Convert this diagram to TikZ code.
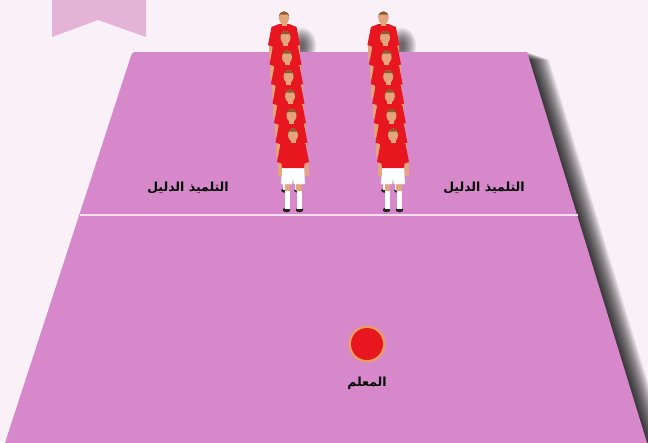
\documentclass[tikz,border=0pt]{standalone}
\usepackage{fontspec}
\newfontfamily\arabicfont[Script=Arabic]{DejaVu Sans}
\TeXXeTstate=1
\usepackage{xcolor}
\usetikzlibrary{positioning}

\definecolor{pagebg}{HTML}{F9F0F8}
\definecolor{fieldpink}{HTML}{D688CB}
\definecolor{tabpink}{HTML}{E3B4D8}
\definecolor{lineglow}{HTML}{F6DDF0}
\definecolor{shirtred}{HTML}{E8161E}
\definecolor{skin}{HTML}{E5A47C}
\definecolor{hair}{HTML}{8B5A2E}

\tikzset{
  arlabel/.style={font=\arabicfont\bfseries\fontsize{12.5}{14}\selectfont, inner sep=0pt},
  player/.pic={
    % shoes
    \fill[black!85] (-6.5,75) ellipse (3.8 and 2.3);
    \fill[black!85] (6.5,75) ellipse (3.8 and 2.3);
    % legs, white socks
    \fill[skin] (-8.5,47) rectangle (-3,56);
    \fill[skin] (3,47) rectangle (8.5,56);
    \fill[white] (-8.5,56) rectangle (-3.5,74);
    \fill[white] (3.5,56) rectangle (8.5,74);
    % shorts
    \fill[white, draw=black!12, line width=0.3] (-11,31) -- (11,31) -- (12,49)
      -- (1,49) -- (0,44) -- (-1,49) -- (-12,49) -- cycle;
    % forearms
    \fill[skin] (-15.5,26) rectangle (-11.5,41);
    \fill[skin] (11.5,26) rectangle (15.5,41);
    % shirt with sleeves
    \fill[shirtred] (-5,6) -- (5,6) -- (12.5,9) -- (16,27) -- (11.5,28.5)
      -- (11,33) -- (-11,33) -- (-11.5,28.5) -- (-16,27) -- (-12.5,9) -- cycle;
    % neck and head
    \fill[skin] (-2.5,3) rectangle (2.5,8);
    \fill[skin] (0,0) ellipse (5 and 6.5);
    \fill[hair] (-5,-1) .. controls (-5.5,-8.5) and (5.5,-8.5) .. (5,-1)
      -- (4,-3.5) -- (-4,-3.5) -- cycle;
  }
}

\begin{document}
\begin{tikzpicture}[x=1pt, y=-1pt]
  \useasboundingbox (0,0) rectangle (648,442);
  \fill[pagebg] (0,0) rectangle (648,442);

  % ribbon tab, top left
  \fill[tabpink] (52,0) -- (146,0) -- (146,37) -- (98,20) -- (52,37) -- cycle;

  % soft shadows cast by the two rows of pupils
  \foreach \cx in {300,400}
    \foreach \s in {1,...,10}
      \fill[black, opacity=0.08] (\cx+2,46) ellipse ({1+1.3*\s} and {3+1.5*\s});

  % shadow of the field
  \foreach \s in {1,...,22}
    \fill[black, opacity=0.06, shift={(\s,0.35*\s)}]
      (133,52) -- (527,52) -- (648,446) -- (5,446) -- cycle;

  % the field
  \fill[fieldpink] (135,52) -- (527,52) -- (648,446) -- (4,446)
    -- (131,56) .. controls (132,53) .. cycle;
  \draw[lineglow, line width=2.8] (80,215) -- (578,215);

  % two rows of pupils, back to front
  \foreach \k in {6,5,...,0} {
    \pic at ({293-1.5*\k},{135-19.5*\k}) {player};
    \pic at ({393-1.6*\k},{135-19.5*\k}) {player};
  }

  % labels
  \node[arlabel] (guideleft) at (188,188) {\beginR التلميذ الدليل\endR};
  \node[arlabel] (guideright) at (484,188) {\beginR التلميذ الدليل\endR};

  % teacher
  \fill[orange!60!yellow, opacity=0.5] (367,344) circle (18.5);
  \node[circle, fill=shirtred, minimum size=32, inner sep=0pt] (teacherdot) at (367,344) {};
  \node[arlabel, below=17pt of teacherdot] (teacher) {\beginR المعلم\endR};
\end{tikzpicture}
\end{document}
